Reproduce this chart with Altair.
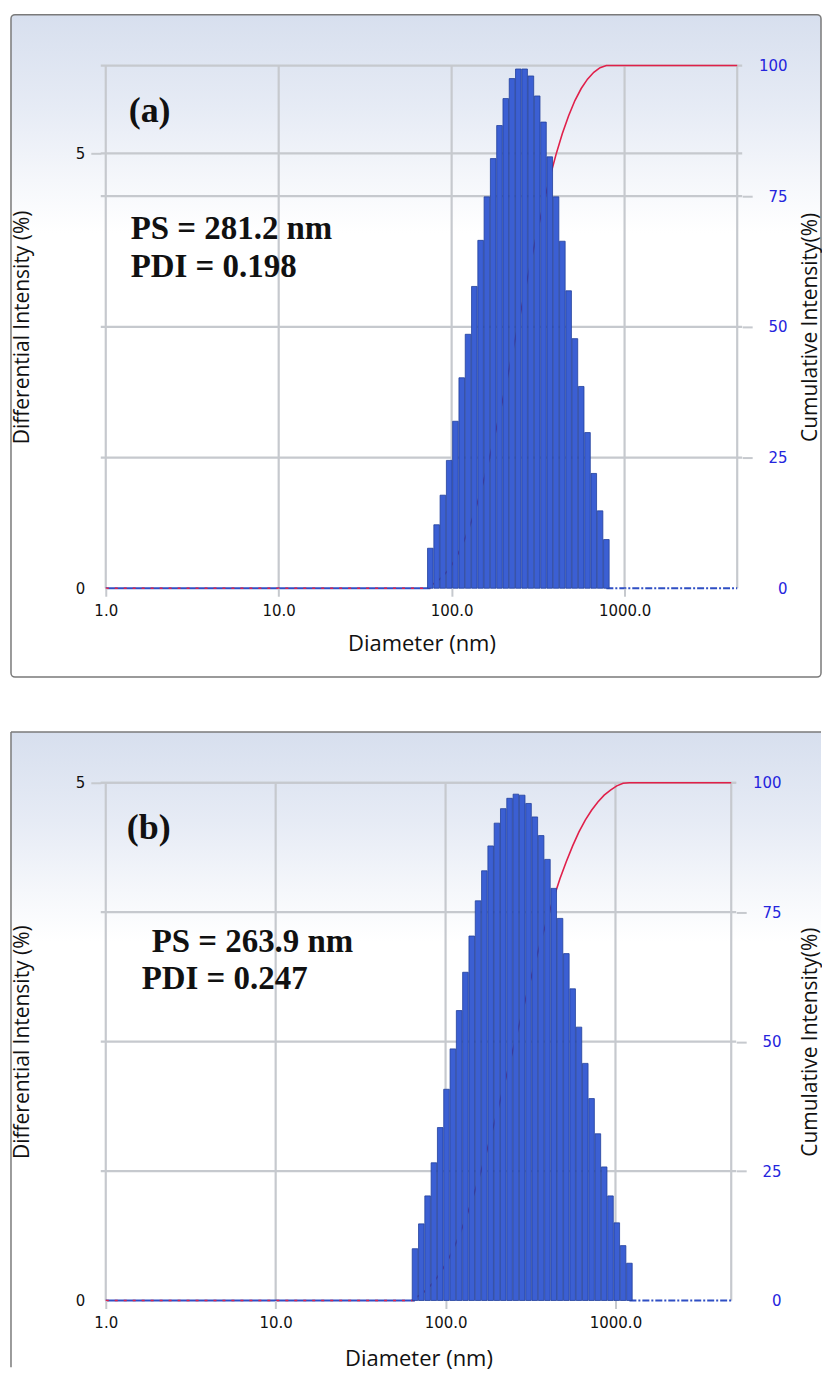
import altair as alt
import pandas as pd

# ---------------- data ----------------
X_TICKS = [1, 10, 100, 1000]
RIGHT_TICKS = [0, 25, 50, 75, 100]
LEFT_TICKS = [0, 5]

# panel (a)
DIAM_A = [75.3, 81.9, 89.0, 96.8, 105.2, 114.4, 124.4, 135.3, 147.1, 159.9,
          173.9, 189.1, 205.6, 223.5, 243.0, 264.3, 287.3, 312.4, 339.7, 369.3,
          401.6, 436.7, 474.8, 516.2, 561.3, 610.3, 663.6, 721.5, 784.5]
DIFF_A = [0.46, 0.73, 1.07, 1.47, 1.92, 2.42, 2.92, 3.47, 4.00, 4.50,
          4.94, 5.32, 5.63, 5.86, 5.97, 5.97, 5.89, 5.66, 5.36, 4.96,
          4.50, 3.99, 3.42, 2.87, 2.32, 1.79, 1.32, 0.89, 0.56]
CUM_A = [0.5, 1.2, 2.3, 3.7, 5.6, 8.0, 11.0, 14.4, 18.4, 22.9,
         27.9, 33.2, 38.8, 44.7, 50.6, 56.6, 62.5, 68.1, 73.5, 78.5,
         83.0, 87.0, 90.4, 93.3, 95.6, 97.4, 98.7, 99.6, 100.0]
XDOM_A = [1, 4480]
YMAX_A = 6.01
TEXT_A = ["(a)", "PS = 281.2 nm", "PDI = 0.198"]

# panel (b)
DIAM_B = [66.1, 72.0, 78.4, 85.4, 93.0, 101.3, 110.4, 120.2, 130.9, 142.6,
          155.3, 169.2, 184.3, 200.7, 218.6, 238.1, 259.4, 282.5, 307.7, 335.2,
          365.1, 397.6, 433.1, 471.7, 513.8, 559.7, 609.6, 664.0, 723.2, 787.7,
          858.0, 934.5, 1017.9, 1108.7, 1207.6]
DIFF_B = [0.50, 0.74, 1.01, 1.33, 1.67, 2.04, 2.43, 2.80, 3.17, 3.52,
          3.86, 4.15, 4.39, 4.61, 4.75, 4.85, 4.89, 4.88, 4.80, 4.67,
          4.49, 4.26, 3.98, 3.69, 3.35, 3.01, 2.64, 2.29, 1.95, 1.61,
          1.29, 1.01, 0.75, 0.53, 0.36]
CUM_B = [0.5, 1.2, 2.3, 3.6, 5.3, 7.3, 9.7, 12.5, 15.7, 19.2,
         23.1, 27.2, 31.6, 36.2, 41.0, 45.8, 50.7, 55.6, 60.4, 65.1,
         69.6, 73.8, 77.8, 81.5, 84.8, 87.8, 90.5, 92.8, 94.7, 96.3,
         97.6, 98.6, 99.4, 99.9, 100.0]
XDOM_B = [1, 4800]
YMAX_B = 5.0
TEXT_B = ["(b)", "PS = 263.9 nm", "PDI = 0.247"]

# ---------------- styles ----------------
GRID = "#c6c9ce"
BAR_FILL = "#3b5fd3"
BAR_EDGE = "#22409c"
BASE_BLUE = "#2f4fc4"
RED = "#e0204a"
RIGHT_BLUE = "#2424dd"
TITLE_FONT = "Open Sans"
LABEL_FONT = "DejaVu Sans"
FRAME = "#7a7a7a"

gradient = alt.LinearGradient(
    gradient="linear",
    stops=[alt.GradientStop(color="#d7dfee", offset=0),
           alt.GradientStop(color="#e6ebf5", offset=0.14),
           alt.GradientStop(color="#f5f7fb", offset=0.25),
           alt.GradientStop(color="#ffffff", offset=0.33),
           alt.GradientStop(color="#ffffff", offset=1)],
    x1=0, x2=0, y1=0, y2=1)


def panel(diam, diff, cum, xdom, ymax, w, h, texts, text_pos, frame_y2,
          closed_frame, title_y):
    one = pd.DataFrame({"k": [0]})
    bars = pd.DataFrame({"d": diam, "v": diff})
    line = pd.DataFrame({"d": diam + [xdom[1]], "c": cum + [100.0]})
    zl = pd.DataFrame({"d": [xdom[0]], "d2": [diam[0]], "z": [0]})
    zr = pd.DataFrame({"d": [diam[-1]], "d2": [xdom[1]], "z": [0]})
    vgrid = pd.DataFrame({"d": X_TICKS + [xdom[1]]})
    lgrid = pd.DataFrame({"y": [5]})
    rgrid = pd.DataFrame({"y": RIGHT_TICKS[1:]})

    xscale = alt.Scale(type="log", domain=xdom, nice=False)
    xaxis = alt.Axis(values=X_TICKS, format=".1f", title="Diameter (nm)",
                     grid=False, domain=False, tickColor=GRID, tickWidth=2,
                     tickSize=8, labelPadding=7, labelFont=LABEL_FONT,
                     labelFontSize=15, labelColor="#111111",
                     titleFont=TITLE_FONT, titleFontSize=22,
                     titleFontWeight="normal", titleColor="#111111",
                     titleX=w / 2, titleY=title_y, titleAlign="center",
                     titleBaseline="middle", zindex=1)

    def X(f="d"):
        return alt.X(f"{f}:Q", scale=xscale, axis=xaxis)

    yl = alt.Scale(domain=[0, ymax], nice=False, zero=True)
    yr = alt.Scale(domain=[0, 100], nice=False, zero=True)
    laxis = alt.Axis(values=LEFT_TICKS, format="d", orient="left",
                     title="Differential Intensity (%)", grid=False,
                     domain=False, tickColor=GRID, tickWidth=2, tickSize=10,
                     tickOpacity={"condition": {"test": "datum.value == 0", "value": 0}, "value": 1},
                     labelPadding=6, labelFont=LABEL_FONT, labelFontSize=15,
                     labelColor="#111111", titleFont=TITLE_FONT,
                     titleFontSize=21, titleFontWeight="normal",
                     titleColor="#111111", titleAngle=270, titleX=-78,
                     titleY=h / 2, titleAlign="center", titleBaseline="middle",
                     zindex=1)
    raxis = alt.Axis(values=RIGHT_TICKS, format="d", orient="right",
                     title="Cumulative Intensity(%)", grid=False,
                     domain=False, tickColor=GRID, tickWidth=2, tickSize=10,
                     tickOpacity={"condition": {"test": "datum.value == 0 || datum.value == 100", "value": 0}, "value": 1},
                     labelPadding=35, labelAlign="right", labelFont=LABEL_FONT,
                     labelFontSize=15, labelColor=RIGHT_BLUE,
                     titleFont=TITLE_FONT, titleFontSize=21,
                     titleFontWeight="normal", titleColor="#111111",
                     titleAngle=270, titleX=711 - w, titleY=h / 2,
                     titleAlign="center", titleBaseline="middle", zindex=1)

    layers = []
    if closed_frame:
        layers.append(alt.Chart(one).mark_rect(
            fill=gradient, stroke=FRAME, strokeWidth=1.5, cornerRadius=4,
            clip=False).encode(x=alt.value(-90), x2=alt.value(722),
                               y=alt.value(-51), y2=alt.value(frame_y2)))
    else:
        layers.append(alt.Chart(one).mark_rect(
            fill=gradient, clip=False).encode(
            x=alt.value(-90), x2=alt.value(722),
            y=alt.value(-51), y2=alt.value(frame_y2)))
        layers.append(alt.Chart(one).mark_rule(
            color=FRAME, strokeWidth=1.5, clip=False).encode(
            x=alt.value(-90), y=alt.value(-51), y2=alt.value(frame_y2)))
        layers.append(alt.Chart(one).mark_rule(
            color=FRAME, strokeWidth=1.5, clip=False).encode(
            x=alt.value(-90), x2=alt.value(722), y=alt.value(-51)))

    g_v = alt.Chart(vgrid).mark_rule(color=GRID, strokeWidth=2.2).encode(x=X())
    g_l = alt.Chart(lgrid).mark_rule(color=GRID, strokeWidth=2.2).encode(
        y=alt.Y("y:Q", scale=yl, axis=None))
    g_r = alt.Chart(rgrid).mark_rule(color=GRID, strokeWidth=2.2).encode(
        y=alt.Y("y:Q", scale=yr, axis=None))

    base_l = alt.Chart(zl).mark_rule(color=BASE_BLUE, strokeWidth=2).encode(
        x=X(), x2="d2:Q", y=alt.Y("z:Q", scale=yl, axis=None))
    base_r = alt.Chart(zr).mark_rule(color=BASE_BLUE, strokeWidth=2,
                                     strokeDash=[7, 2, 2, 2]).encode(
        x=X(), x2="d2:Q", y=alt.Y("z:Q", scale=yl, axis=None))
    red0 = alt.Chart(zl).mark_rule(color=RED, strokeWidth=1.6,
                                   strokeDash=[3, 6]).encode(
        x=X(), x2="d2:Q", y=alt.Y("z:Q", scale=yl, axis=None))

    cumline = alt.Chart(line).mark_line(color=RED, strokeWidth=1.6).encode(
        x=X(), y=alt.Y("c:Q", scale=yr, axis=raxis))

    barl = alt.Chart(bars).mark_bar(width=5.6, color=BAR_FILL, stroke=BAR_EDGE,
                                    strokeWidth=0.8, opacity=1).encode(
        x=X(), y=alt.Y("v:Q", scale=yl, axis=laxis, stack=None))

    sizes = [36, 33, 33]
    tl = []
    for t, (px, py), s in zip(texts, text_pos, sizes):
        tl.append(alt.Chart(one).mark_text(
            align="left", baseline="middle", font="Liberation Serif",
            fontWeight="bold", fontSize=s, color="#111111").encode(
            x=alt.value(px), y=alt.value(py), text=alt.value(t)))

    layers += [g_v, g_l, g_r, base_l, base_r, cumline, red0, barl] + tl
    return alt.layer(*layers).resolve_scale(y="independent").properties(
        width=w, height=h)


pa = panel(DIAM_A, DIFF_A, CUM_A, XDOM_A, YMAX_A, 643, 524, TEXT_A,
           [(28, 46), (30, 164), (30, 202)], 613, True, 55)
pb = panel(DIAM_B, DIFF_B, CUM_B, XDOM_B, YMAX_B, 637, 519, TEXT_B,
           [(26, 45), (51, 160), (41, 197)], 586, False, 58)

chart = alt.vconcat(pa, pb, spacing=195, bounds="flush").properties(
    padding={"left": 2, "top": 4, "right": 0, "bottom": 0}
).configure_view(stroke=None)

chart.save("out.html", embed_options={"renderer": "svg", "actions": False})
